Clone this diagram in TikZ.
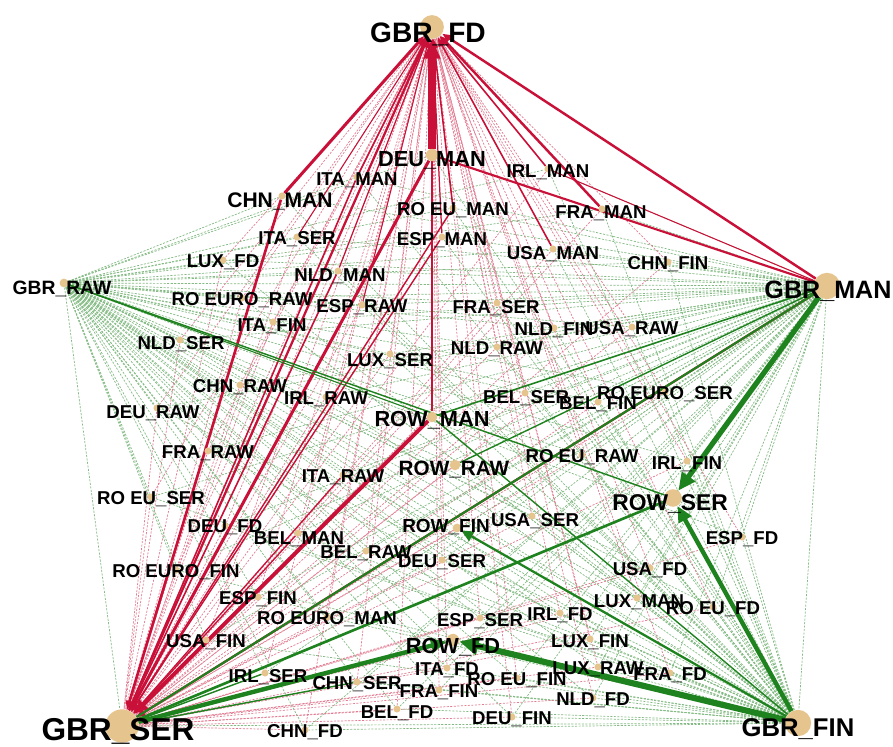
\documentclass[tikz,border=0pt]{standalone}
\usepackage{fontspec}
\setmainfont{Liberation Sans}
\usetikzlibrary{arrows.meta,backgrounds}

\definecolor{linkred}{RGB}{200,16,56}
\definecolor{linkgreen}{RGB}{30,130,30}
\definecolor{dotfill}{RGB}{230,196,142}

\newcommand{\smallfont}{\bfseries\fontsize{10.6}{12}\selectfont}
\newcommand{\midfont}{\bfseries\fontsize{12.4}{14}\selectfont}
\newcommand{\countries}{deuman,itaman,chnman,irlman,roeuman,framan,espman,itaser,usaman,nldman,
  luxfd,chnfin,roeuroraw,espraw,fraser,itafin,nldfin,usaraw,nldser,nldraw,
  luxser,chnraw,irlraw,belser,belfin,roeuroser,deuraw,fraraw,roeuraw,itaraw,
  irlfin,roeuser,deufd,belman,usaser,espfd,belraw,deuser,roeurofin,usafd,
  espfin,luxman,roeufd,roeuroman,espser,irlfd,usafin,luxfin,itafd,luxraw,
  frafd,irlser,chnser,roeufin,frafin,nldfd,belfd,deufin,chnfd}

\tikzset{
  dot/.style={circle, fill=dotfill, inner sep=0pt, minimum size=4pt},
  lbl/.style={font=\smallfont, inner sep=0pt},
  lblm/.style={font=\midfont, inner sep=0pt},
  faintred/.style={linkred!55, line width=0.4pt, dash pattern=on 1.2pt off 0.8pt},
  faintgreen/.style={linkgreen!55, line width=0.4pt, dash pattern=on 1.2pt off 0.8pt},
  redlink/.style={linkred, -{Triangle[length=5pt,width=4pt]}},
  greenlink/.style={linkgreen, -{Triangle[length=7pt,width=6pt]}}
}

\begin{document}
\begin{tikzpicture}[x=0.02cm, y=-0.02cm]
\useasboundingbox (0,0) rectangle (893,747);

% hubs
\node[dot, minimum size=13.5pt] (gbrfd) at (432,27) {};
\node[dot, minimum size=15pt] (gbrman) at (827,286) {};
\node[dot, minimum size=19pt] (gbrser) at (122,726) {};
\node[dot, minimum size=15pt] (gbrfin) at (798,723) {};
\node[dot, minimum size=5pt] (gbrraw) at (64,283) {};
\node[dot, minimum size=6pt] (rowman) at (432,417) {};
\node[dot, minimum size=6pt] (rowraw) at (455,465) {};
\node[dot, minimum size=10pt] (rowser) at (673,498) {};
\node[dot, minimum size=5pt] (rowfin) at (457,528) {};
\node[dot, minimum size=7pt] (rowfd) at (453,640) {};

% countries
\node[dot, minimum size=7pt] (deuman) at (432,155) {};
\node[dot] (itaman) at (357,177) {};
\node[dot] (chnman) at (282,196) {};
\node[dot] (irlman) at (548,169) {};
\node[dot] (roeuman) at (453,208) {};
\node[dot] (framan) at (602,209) {};
\node[dot] (espman) at (442,237) {};
\node[dot] (itaser) at (297,237) {};
\node[dot] (usaman) at (553,249) {};
\node[dot] (nldman) at (338,271) {};
\node[dot] (luxfd) at (223,260) {};
\node[dot] (chnfin) at (668,262) {};
\node[dot] (roeuroraw) at (242,298) {};
\node[dot] (espraw) at (362,305) {};
\node[dot] (fraser) at (497,303) {};
\node[dot] (itafin) at (273,322) {};
\node[dot] (nldfin) at (554,328) {};
\node[dot] (usaraw) at (632,327) {};
\node[dot] (nldser) at (180,340) {};
\node[dot] (nldraw) at (497,347) {};
\node[dot] (luxser) at (390,354) {};
\node[dot] (chnraw) at (240,385) {};
\node[dot] (irlraw) at (326,397) {};
\node[dot] (belser) at (525,393) {};
\node[dot] (belfin) at (598,402) {};
\node[dot] (roeuroser) at (665,392) {};
\node[dot] (deuraw) at (157,408) {};
\node[dot] (fraraw) at (208,451) {};
\node[dot] (roeuraw) at (582,455) {};
\node[dot] (itaraw) at (343,475) {};
\node[dot] (irlfin) at (687,461) {};
\node[dot] (roeuser) at (151,497) {};
\node[dot] (deufd) at (225,526) {};
\node[dot] (belman) at (298,533) {};
\node[dot] (usaser) at (532,516) {};
\node[dot] (espfd) at (742,537) {};
\node[dot] (belraw) at (366,551) {};
\node[dot] (deuser) at (442,560) {};
\node[dot] (roeurofin) at (176,570) {};
\node[dot] (usafd) at (650,568) {};
\node[dot] (espfin) at (258,597) {};
\node[dot] (luxman) at (637,598) {};
\node[dot] (roeufd) at (713,607) {};
\node[dot] (roeuroman) at (327,617) {};
\node[dot] (espser) at (480,618) {};
\node[dot] (irlfd) at (560,613) {};
\node[dot] (usafin) at (206,640) {};
\node[dot] (luxfin) at (590,639) {};
\node[dot] (itafd) at (447,668) {};
\node[dot] (luxraw) at (598,667) {};
\node[dot] (frafd) at (670,673) {};
\node[dot] (irlser) at (265,673) {};
\node[dot] (chnser) at (357,682) {};
\node[dot] (roeufin) at (517,678) {};
\node[dot] (frafin) at (439,690) {};
\node[dot] (nldfd) at (593,698) {};
\node[dot] (belfd) at (397,709) {};
\node[dot] (deufin) at (512,717) {};
\node[dot] (chnfd) at (305,730) {};

\begin{pgfonlayer}{background}
% faint fans
\foreach \n in \countries {
  \draw[faintred] (\n) -- (gbrfd);
  \draw[faintred] (\n) -- (gbrser);
  \draw[faintgreen] (gbrman) -- (\n);
  \draw[faintgreen] (gbrfin) -- (\n);
  \draw[faintgreen] (gbrraw) -- (\n);
}
\foreach \n in {rowman,rowraw,rowser,rowfin,rowfd} {
  \draw[faintgreen] (gbrraw) -- (\n);
  \draw[faintred] (\n) -- (gbrser);
}
\draw[faintgreen] (gbrser) -- (gbrfin);
\draw[faintgreen] (gbrraw) -- (gbrman);
\draw[faintgreen] (gbrraw) -- (gbrser);
\draw[faintgreen] (gbrman) -- (gbrfin);

% red links into GBR_FD
\draw[redlink, line width=4pt, -{Triangle[length=11pt,width=9pt]}] (deuman) -- (gbrfd);
\draw[redlink, line width=1.7pt] (chnman) -- (gbrfd);
\draw[redlink, line width=1.4pt] (framan) -- (gbrfd);
\draw[redlink, line width=1.4pt] (gbrman) -- (gbrfd);
\draw[redlink, line width=1.3pt] (gbrser) -- (gbrfd);
\draw[redlink, line width=0.9pt] (itaman) -- (gbrfd);
\draw[redlink, line width=0.9pt] (irlman) -- (gbrfd);
\draw[redlink, line width=0.9pt] (usaman) -- (gbrfd);
\draw[redlink, line width=0.9pt] (roeuman) -- (gbrfd);
\draw[redlink, line width=0.7pt] (espman) -- (gbrfd);
\draw[redlink, line width=0.7pt] (nldman) -- (gbrfd);
\draw[redlink, line width=0.8pt] (rowman) -- (gbrfd);
\draw[redlink, line width=0.6pt] (espraw) -- (gbrfd);
\draw[redlink, line width=0.6pt] (itaser) -- (gbrfd);

% red links into GBR_SER
\draw[redlink, line width=2.2pt, -{Triangle[length=8pt,width=7pt]}] (rowman) -- (gbrser);
\draw[redlink, line width=1.7pt] (deuman) -- (gbrser);
\draw[redlink, line width=1.5pt] (chnman) -- (gbrser);
\draw[redlink, line width=1.3pt] (gbrman) -- (gbrser);
\draw[redlink, line width=0.9pt] (itaman) -- (gbrser);
\draw[redlink, line width=0.9pt] (nldman) -- (gbrser);
\draw[redlink, line width=0.8pt] (espman) -- (gbrser);
\draw[redlink, line width=0.8pt] (roeuman) -- (gbrser);
\draw[redlink, line width=0.7pt] (itaraw) -- (gbrser);
\draw[redlink, line width=0.7pt] (belman) -- (gbrser);
\draw[linkred, line width=1.2pt] (deuman) -- (gbrman);
\draw[linkred, line width=0.6pt] (irlman) -- (gbrman);

% green links
\draw[greenlink, line width=3pt, -{Triangle[length=10pt,width=9pt]}] (gbrman) -- (rowser);
\draw[greenlink, line width=2.5pt, -{Triangle[length=9pt,width=8pt]}] (gbrfin) -- (rowser);
\draw[greenlink, line width=3.5pt, -{Triangle[length=11pt,width=10pt]}] (gbrfin) -- (rowfd);
\draw[greenlink, line width=2.5pt, -{Triangle[length=9pt,width=8pt]}] (gbrser) -- (rowfd);
\draw[greenlink, line width=1.3pt] (gbrfin) -- (rowfin);
\draw[linkgreen, line width=1.5pt] (gbrser) -- (rowser);
\draw[linkgreen, line width=1.2pt] (gbrser) -- (gbrman);
\draw[linkgreen, line width=0.8pt] (gbrfin) -- (rowman);
\draw[linkgreen, line width=0.9pt] (gbrman) -- (rowman);
\draw[linkgreen, line width=0.8pt] (gbrman) -- (rowraw);
\draw[linkgreen, line width=0.8pt] (gbrraw) -- (rowser);
\draw[linkgreen, line width=0.6pt] (gbrraw) -- (rowman);
\draw[linkgreen, line width=0.8pt] (gbrser) -- (chnser);
\draw[linkgreen, line width=0.8pt] (gbrser) -- (irlser);
\end{pgfonlayer}

% labels
\node[lbl, font=\bfseries\fontsize{16}{18}\selectfont] (gbrfd-t) at (428,34) {GBR\_FD};
\node[lbl, font=\bfseries\fontsize{14.3}{16}\selectfont] (gbrman-t) at (828,291) {GBR\_MAN};
\node[lbl, font=\bfseries\fontsize{18}{20}\selectfont] (gbrser-t) at (118,731) {GBR\_SER};
\node[lbl, font=\bfseries\fontsize{14.6}{16}\selectfont] (gbrfin-t) at (798,729) {GBR\_FIN};
\node[lbl, font=\bfseries\fontsize{11}{13}\selectfont] (gbrraw-t) at (62,289) {GBR\_RAW};
\node[lblm] (rowman-t) at (432,420) {ROW\_MAN};
\node[lbl, font=\bfseries\fontsize{11.8}{13}\selectfont] (rowraw-t) at (454,470) {ROW\_RAW};
\node[lblm, font=\bfseries\fontsize{13}{15}\selectfont] (rowser-t) at (670,504) {ROW\_SER};
\node[lbl, font=\bfseries\fontsize{10.8}{12}\selectfont] (rowfin-t) at (446,527) {ROW\_FIN};
\node[lblm] (rowfd-t) at (453,647) {ROW\_FD};

\node[lblm] (deuman-t) at (432,160) {DEU\_MAN};
\node[lbl] (itaman-t) at (357,180) {ITA\_MAN};
\node[lbl, font=\bfseries\fontsize{12}{14}\selectfont] (chnman-t) at (280,201) {CHN\_MAN};
\node[lbl] (irlman-t) at (548,172) {IRL\_MAN};
\node[lbl] (roeuman-t) at (453,210) {RO EU\_MAN};
\node[lbl] (framan-t) at (601,213) {FRA\_MAN};
\node[lbl] (espman-t) at (442,240) {ESP\_MAN};
\node[lbl] (itaser-t) at (297,239) {ITA\_SER};
\node[lbl] (usaman-t) at (553,254) {USA\_MAN};
\node[lbl] (nldman-t) at (340,276) {NLD\_MAN};
\node[lbl] (luxfd-t) at (223,262) {LUX\_FD};
\node[lbl] (chnfin-t) at (668,264) {CHN\_FIN};
\node[lbl] (roeuroraw-t) at (242,300) {RO EURO\_RAW};
\node[lbl] (espraw-t) at (362,307) {ESP\_RAW};
\node[lbl] (fraser-t) at (496,308) {FRA\_SER};
\node[lbl] (itafin-t) at (272,326) {ITA\_FIN};
\node[lbl] (nldfin-t) at (554,330) {NLD\_FIN};
\node[lbl] (usaraw-t) at (632,329) {USA\_RAW};
\node[lbl] (nldser-t) at (181,344) {NLD\_SER};
\node[lbl] (nldraw-t) at (497,349) {NLD\_RAW};
\node[lbl] (luxser-t) at (390,361) {LUX\_SER};
\node[lbl] (chnraw-t) at (240,387) {CHN\_RAW};
\node[lbl] (irlraw-t) at (326,399) {IRL\_RAW};
\node[lbl] (belser-t) at (526,398) {BEL\_SER};
\node[lbl] (belfin-t) at (598,404) {BEL\_FIN};
\node[lbl] (roeuroser-t) at (665,394) {RO EURO\_SER};
\node[lbl] (deuraw-t) at (153,413) {DEU\_RAW};
\node[lbl] (fraraw-t) at (208,453) {FRA\_RAW};
\node[lbl] (roeuraw-t) at (582,457) {RO EU\_RAW};
\node[lbl] (itaraw-t) at (343,477) {ITA\_RAW};
\node[lbl] (irlfin-t) at (687,464) {IRL\_FIN};
\node[lbl] (roeuser-t) at (151,499) {RO EU\_SER};
\node[lbl] (deufd-t) at (225,527) {DEU\_FD};
\node[lbl] (belman-t) at (299,539) {BEL\_MAN};
\node[lbl] (usaser-t) at (535,521) {USA\_SER};
\node[lbl] (espfd-t) at (742,539) {ESP\_FD};
\node[lbl] (belraw-t) at (366,553) {BEL\_RAW};
\node[lbl] (deuser-t) at (442,562) {DEU\_SER};
\node[lbl] (roeurofin-t) at (176,572) {RO EURO\_FIN};
\node[lbl] (usafd-t) at (650,570) {USA\_FD};
\node[lbl] (espfin-t) at (258,599) {ESP\_FIN};
\node[lbl] (luxman-t) at (639,602) {LUX\_MAN};
\node[lbl] (roeufd-t) at (713,609) {RO EU\_FD};
\node[lbl] (roeuroman-t) at (327,619) {RO EURO\_MAN};
\node[lbl] (espser-t) at (480,621) {ESP\_SER};
\node[lbl] (irlfd-t) at (560,615) {IRL\_FD};
\node[lbl] (usafin-t) at (206,642) {USA\_FIN};
\node[lbl] (luxfin-t) at (590,642) {LUX\_FIN};
\node[lbl] (itafd-t) at (447,670) {ITA\_FD};
\node[lbl] (luxraw-t) at (598,669) {LUX\_RAW};
\node[lbl] (frafd-t) at (670,675) {FRA\_FD};
\node[lbl] (irlser-t) at (268,677) {IRL\_SER};
\node[lbl] (chnser-t) at (357,684) {CHN\_SER};
\node[lbl] (roeufin-t) at (517,680) {RO EU\_FIN};
\node[lbl] (frafin-t) at (439,692) {FRA\_FIN};
\node[lbl] (nldfd-t) at (593,700) {NLD\_FD};
\node[lbl] (belfd-t) at (397,713) {BEL\_FD};
\node[lbl] (deufin-t) at (512,719) {DEU\_FIN};
\node[lbl] (chnfd-t) at (305,732) {CHN\_FD};

\end{tikzpicture}
\end{document}
